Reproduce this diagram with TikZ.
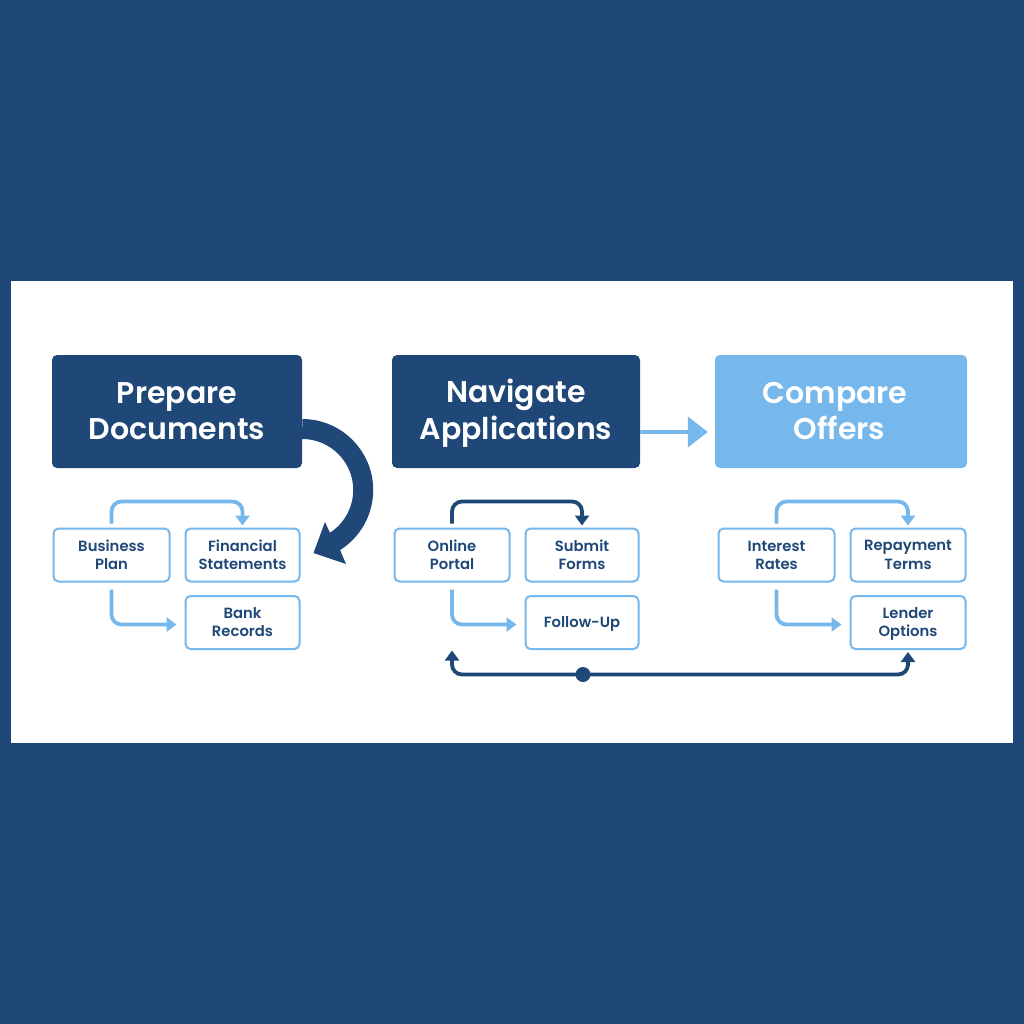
\documentclass[tikz,border=0pt]{standalone}
\usepackage{fontspec}
\setmainfont{Poppins}[BoldFont={Poppins SemiBold}]
\usetikzlibrary{arrows.meta,calc}
\definecolor{navy}{HTML}{1F4878}
\definecolor{sky}{HTML}{76B8EC}
\newcommand\lstrut{\vrule width 0pt height 0.79\baselineskip depth 0.21\baselineskip}
\tikzset{
  headbox/.style={rounded corners=5pt,inner sep=0pt,align=center,text=white,
    font=\fontsize{30}{35}\selectfont\bfseries},
  subbox/.style={draw=sky,line width=2pt,fill=white,rounded corners=5pt,inner sep=0pt,align=center,
    text=navy,font=\fontsize{14.8}{18}\selectfont\bfseries},
  skyarrow/.style={draw=sky,line width=3.8pt,rounded corners=10pt,-{Triangle[length=10pt,width=14pt]}},
  navyarrow/.style={draw=navy,line width=3.8pt,rounded corners=10pt,-{Triangle[length=10pt,width=14pt]}},
  loopline/.style={draw=navy,line width=3.8pt,rounded corners=10pt,{Triangle[length=10pt,width=14pt]}-{Triangle[length=10pt,width=14pt]}},
}
\begin{document}
\begin{tikzpicture}[x=1pt,y=-1pt]
\fill[navy] (0,0) rectangle (1024,1024);
\fill[white] (11,281) rectangle (1013,743);
% header boxes
\node[headbox,fill=navy,minimum width=250pt,minimum height=113pt] (prep) at (177,411.5) {\lstrut Prepare\\\lstrut Documents};
\node[headbox,fill=navy,minimum width=248pt,minimum height=113pt] (nav) at (516,411.5) {\lstrut Navigate\\\lstrut Applications};
\node[headbox,fill=sky,minimum width=252pt,minimum height=113pt] (comp) at (841,411.5) {\lstrut Compare\hspace*{12pt}\\\lstrut Offers\hspace*{3pt}};
% sub boxes
\node[subbox,minimum width=116pt,minimum height=53pt] (bus) at (111.5,555) {\lstrut Business\\\lstrut Plan};
\node[subbox,minimum width=114pt,minimum height=53pt] (fin) at (242.5,555) {\lstrut Financial\\\lstrut Statements};
\node[subbox,minimum width=114pt,minimum height=53pt] (bank) at (242.5,622.5) {\lstrut Bank\\\lstrut Records};
\node[subbox,minimum width=115pt,minimum height=53pt] (port) at (452,555) {\lstrut Online\\\lstrut Portal};
\node[subbox,minimum width=113pt,minimum height=53pt] (sub) at (582,555) {\lstrut Submit\\\lstrut Forms};
\node[subbox,minimum width=113pt,minimum height=53pt] (foll) at (582,622.5) {\lstrut Follow-Up};
\node[subbox,minimum width=116pt,minimum height=53pt] (rate) at (776.5,555) {\lstrut Interest\\\lstrut Rates};
\node[subbox,minimum width=115pt,minimum height=53pt] (term) at (908,555) {\lstrut Repayment\\\lstrut Terms};
\node[subbox,minimum width=115pt,minimum height=53pt] (lend) at (908,622.5) {\lstrut Lender\\\lstrut Options};
% big curved arrow
\coordinate (bigstart) at ($(prep.east)+(0,17.5)$);
\draw[navy,line width=20pt] (bigstart) arc[start angle=90,end angle=-60,radius=61pt];
\fill[navy] ($(fin.east)+(13,-2)$) -- (325,522) -- (330,533) -- (340,550) -- (346,564) -- cycle;
% nav to compare
\draw[draw=sky,line width=3.8pt,-{Triangle[length=20pt,width=30pt]}] (nav.east|-0,432) -- ($(comp.west|-0,432)+(-7,0)$);
% small connectors
\foreach \a/\b/\c/\s in {bus/fin/bank/skyarrow,port/sub/foll/navyarrow,rate/term/lend/skyarrow}{
  \draw[\s] ($(\a.north)+(0,-4)$) -- ($(\a.north)+(0,-26)$) -- ($(\b.north)+(0,-26)$) -- ($(\b.north)+(0,-2)$);
  \draw[skyarrow] ($(\a.south)+(0,7)$) |- ($(\c.west)+(-8,2)$);
}
% bottom loop
\node[circle,fill=navy,minimum size=15pt,inner sep=0pt] (hub) at (583,674.5) {};
\draw[loopline] ($(port.south)+(0,68)$) -- (port.south|-hub.center) -- (lend.south|-hub.center) -- ($(lend.south)+(0,2)$);
\end{tikzpicture}
\end{document}
